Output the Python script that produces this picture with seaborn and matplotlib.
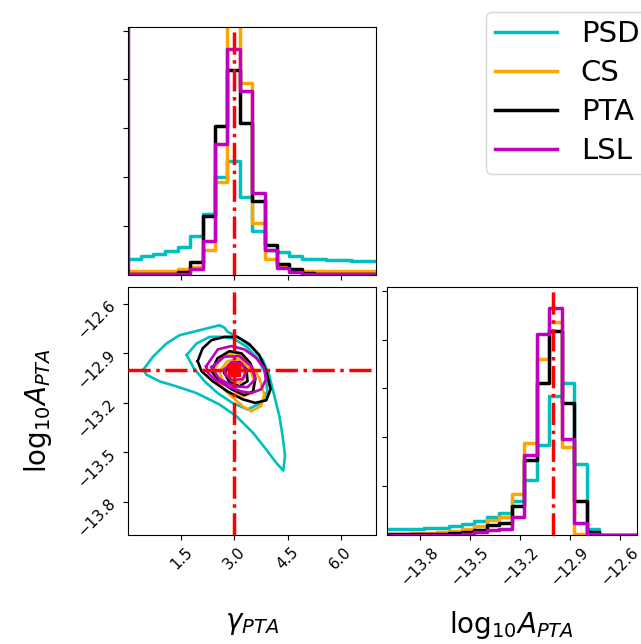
import numpy as np
import pandas as pd
import matplotlib
matplotlib.use("Agg")
import matplotlib.pyplot as plt
import seaborn as sns
from matplotlib.lines import Line2D
from matplotlib.ticker import FuncFormatter

# ---------------- data ----------------
labels = ["PSD", "CS", "PTA", "LSL"]
colors = ["c", "orange", "k", "m"]

truth_gamma = 3.0
truth_logA = -13.0

gamma_edges = [float(v) for v in np.linspace(0.0, 7.0, 21)]
logA_edges = [float(v) for v in np.linspace(-14.0, -12.5, 21)]

# 1D marginal histogram heights (20 bins each)
psd_gamma = [0.32, 0.38, 0.42, 0.49, 0.56, 0.78, 1.25, 2.00, 2.33, 1.59,
             0.89, 0.51, 0.46, 0.37, 0.32, 0.32, 0.30, 0.30, 0.27, 0.27]
cs_gamma = [0.08, 0.08, 0.08, 0.08, 0.12, 0.16, 0.51, 1.90, 5.60, 3.92,
            1.06, 0.32, 0.15, 0.08, 0.08, 0.08, 0.08, 0.08, 0.08, 0.08]
pta_gamma = [0.02, 0.02, 0.02, 0.02, 0.05, 0.25, 1.19, 3.04, 4.19, 3.11,
             1.51, 0.60, 0.22, 0.12, 0.03, 0.02, 0.02, 0.02, 0.02, 0.02]
lsl_gamma = [0.01, 0.01, 0.01, 0.01, 0.01, 0.12, 0.68, 2.68, 4.62, 3.76,
             1.67, 0.51, 0.14, 0.05, 0.01, 0.01, 0.01, 0.01, 0.01, 0.01]

psd_logA = [0.13, 0.13, 0.13, 0.14, 0.15, 0.18, 0.23, 0.29, 0.36, 0.46,
            0.70, 1.12, 1.84, 2.84, 3.11, 1.46, 0.12, 0.00, 0.00, 0.00]
cs_logA = [0.03, 0.03, 0.04, 0.05, 0.07, 0.08, 0.12, 0.18, 0.30, 0.36,
           0.83, 1.88, 3.60, 4.35, 1.81, 0.02, 0.00, 0.00, 0.00, 0.00]
pta_logA = [0.02, 0.02, 0.02, 0.02, 0.02, 0.04, 0.06, 0.10, 0.20, 0.25,
            0.60, 1.53, 3.11, 4.17, 2.71, 0.70, 0.07, 0.00, 0.00, 0.00]
lsl_logA = [0.01, 0.01, 0.01, 0.01, 0.01, 0.01, 0.03, 0.06, 0.10, 0.12,
            0.36, 1.64, 4.12, 4.65, 1.96, 0.25, 0.02, 0.00, 0.00, 0.00]

# 2D credible contours (gamma, log10A)
psd_contours = [
    [(0.42, -13.00), (0.70, -12.92), (1.08, -12.84), (1.45, -12.79), (1.83, -12.77),
     (2.20, -12.75), (2.58, -12.73), (2.72, -12.745), (2.81, -12.77), (3.00, -12.79),
     (3.23, -12.82), (3.52, -12.87), (3.80, -12.94), (3.98, -13.03), (4.13, -13.16),
     (4.27, -13.28), (4.36, -13.40), (4.43, -13.52), (4.38, -13.61), (4.17, -13.56),
     (3.89, -13.48), (3.52, -13.38), (3.05, -13.28), (2.58, -13.21), (1.92, -13.14),
     (1.36, -13.10), (0.89, -13.07), (0.52, -13.03)],
    [(1.65, -12.91), (1.93, -12.84), (2.30, -12.80), (2.63, -12.80), (2.97, -12.81),
     (3.34, -12.86), (3.65, -12.93), (3.87, -13.02), (3.93, -13.13), (3.76, -13.20),
     (3.37, -13.24), (2.94, -13.20), (2.52, -13.14), (2.16, -13.07), (1.85, -12.99)],
]
cs_contours = [
    [(2.39, -13.008), (2.63, -12.927), (3.00, -12.897), (3.37, -12.937), (3.70, -13.048),
     (3.84, -13.149), (3.75, -13.22), (3.47, -13.25), (3.23, -13.22), (2.81, -13.14),
     (2.49, -13.068)],
    [(2.58, -13.008), (2.80, -12.947), (3.14, -12.935), (3.42, -12.984), (3.56, -13.068),
     (3.51, -13.14), (3.23, -13.16), (2.92, -13.117), (2.66, -13.068)],
    [(2.80, -13.008), (3.00, -12.97), (3.23, -12.99), (3.31, -13.044), (3.14, -13.08),
     (2.89, -13.062)],
]
pta_contours = [
    [(1.96, -12.947), (2.10, -12.87), (2.35, -12.82), (2.72, -12.80), (3.08, -12.80),
     (3.42, -12.844), (3.70, -12.91), (3.90, -13.008), (4.02, -13.117), (3.90, -13.184),
     (3.59, -13.20), (3.23, -13.178), (2.80, -13.13), (2.38, -13.068), (2.07, -13.008)],
    [(2.35, -13.008), (2.52, -12.93), (2.86, -12.887), (3.20, -12.90), (3.45, -12.96),
     (3.59, -13.05), (3.53, -13.13), (3.28, -13.153), (2.92, -13.117), (2.58, -13.068)],
    [(2.72, -13.02), (2.86, -12.965), (3.14, -12.953), (3.34, -12.996), (3.37, -13.068),
     (3.14, -13.10), (2.86, -13.075)],
]
lsl_contours = [
    [(2.20, -12.978), (2.53, -12.876), (2.91, -12.856), (3.28, -12.876), (3.61, -12.927),
     (3.84, -12.988), (3.89, -13.058), (3.75, -13.119), (3.47, -13.14), (3.19, -13.13),
     (2.81, -13.10), (2.44, -13.058), (2.25, -13.018)],
    [(2.35, -12.984), (2.72, -12.92), (3.14, -12.917), (3.48, -12.978), (3.59, -13.056),
     (3.37, -13.105), (3.00, -13.10), (2.58, -13.056)],
    [(2.72, -12.996), (2.92, -12.953), (3.20, -12.96), (3.34, -13.008), (3.23, -13.056),
     (2.94, -13.062), (2.75, -13.032)],
]

gamma_ticks = [1.5, 3.0, 4.5, 6.0]
logA_ticks = [-13.8, -13.5, -13.2, -12.9, -12.6]
hist_yticks = [1, 2, 3, 4, 5]

gamma_hists = [psd_gamma, cs_gamma, pta_gamma, lsl_gamma]
logA_hists = [psd_logA, cs_logA, pta_logA, lsl_logA]
contours = [psd_contours, cs_contours, pta_contours, lsl_contours]

# ---------------- figure ----------------
plt.rcParams["font.family"] = ["DejaVu Sans"]
plt.rcParams["mathtext.fontset"] = "dejavusans"

W, H = 641, 644
fig = plt.figure(figsize=(W / 100, H / 100), dpi=100)


def px_axes(x0, y0, x1, y1):
    return fig.add_axes([x0 / W, 1 - y1 / H, (x1 - x0) / W, (y1 - y0) / H])


fmt = FuncFormatter(lambda v, pos: f"{v:.1f}".replace("-", "\u2212"))

ax_g = px_axes(128.3, 27.3, 376.0, 274.5)
ax_2d = px_axes(128.3, 287.3, 376.0, 535.0)
ax_A = px_axes(386.8, 287.3, 636.7, 535.0)

gamma_centers = [0.5 * (a + b) for a, b in zip(gamma_edges[:-1], gamma_edges[1:])]
logA_centers = [0.5 * (a + b) for a, b in zip(logA_edges[:-1], logA_edges[1:])]

for vals, col in zip(gamma_hists, colors):
    df = pd.DataFrame({"x": gamma_centers, "w": vals})
    sns.histplot(data=df, x="x", weights="w", bins=gamma_edges, element="step",
                 fill=False, color=col, linewidth=2.5, ax=ax_g)
ax_g.axvline(gamma_edges[0], color="m", lw=2.5)
ax_g.axvline(truth_gamma, color="r", ls="-.", lw=2.5, zorder=5)
ax_g.set_xlim(0, 7)
ax_g.set_ylim(0, 5.07)
ax_g.set_xticks(gamma_ticks)
ax_g.set_yticks(hist_yticks)
ax_g.set_xticklabels([])
ax_g.set_yticklabels([])
ax_g.set_xlabel("")
ax_g.set_ylabel("")

for vals, col in zip(logA_hists, colors):
    df = pd.DataFrame({"x": logA_centers, "w": vals})
    sns.histplot(data=df, x="x", weights="w", bins=logA_edges, element="step",
                 fill=False, color=col, linewidth=2.5, ax=ax_A)
ax_A.axvline(truth_logA, color="r", ls="-.", lw=2.5, zorder=5)
ax_A.set_xlim(-14.0, -12.5)
ax_A.set_ylim(0, 5.07)
ax_A.set_xticks(logA_ticks)
ax_A.set_yticks(hist_yticks)
ax_A.set_yticklabels([])
ax_A.set_ylabel("")
ax_A.xaxis.set_major_formatter(fmt)

for polys, col in zip(contours, colors):
    for poly in polys:
        g = [p[0] for p in poly] + [poly[0][0]]
        a = [p[1] for p in poly] + [poly[0][1]]
        sns.lineplot(x=g, y=a, sort=False, estimator=None, color=col,
                     linewidth=1.9, ax=ax_2d)
ax_2d.axvline(truth_gamma, color="r", ls="-.", lw=2.5, zorder=5)
ax_2d.axhline(truth_logA, color="r", ls="-.", lw=2.5, zorder=5)
ax_2d.plot([truth_gamma], [truth_logA], "s", color="r", ms=8, zorder=6)
ax_2d.set_xlim(0, 7)
ax_2d.set_ylim(-14.0, -12.5)
ax_2d.set_xticks(gamma_ticks)
ax_2d.set_yticks(logA_ticks)
ax_2d.xaxis.set_major_formatter(fmt)
ax_2d.yaxis.set_major_formatter(fmt)

for ax in (ax_2d, ax_A):
    for lab in ax.get_xticklabels():
        lab.set_rotation(45)
        lab.set_fontsize(11)
for lab in ax_2d.get_yticklabels():
    lab.set_rotation(45)
    lab.set_fontsize(11)

logA_label = r"$\mathrm{log}_{10}A_{PTA}$"
ax_2d.set_xlabel(r"$\gamma_{PTA}$", fontsize=20)
ax_2d.set_ylabel(logA_label, fontsize=20)
ax_A.set_xlabel(logA_label, fontsize=20)
ax_2d.xaxis.set_label_coords(0.5, -0.3)
ax_A.xaxis.set_label_coords(0.5, -0.3)
ax_2d.yaxis.set_label_coords(-0.3, 0.5)

handles = [Line2D([0], [0], color=c, lw=2.5) for c in colors]
fig.legend(handles, labels, loc="upper left",
           bbox_to_anchor=(486 / W, 1 - 11.7 / H), borderaxespad=0,
           fontsize=21, handlelength=2.15, handletextpad=0.8,
           borderpad=0.3, labelspacing=0.37)

fig.savefig("out.png", dpi=100)
